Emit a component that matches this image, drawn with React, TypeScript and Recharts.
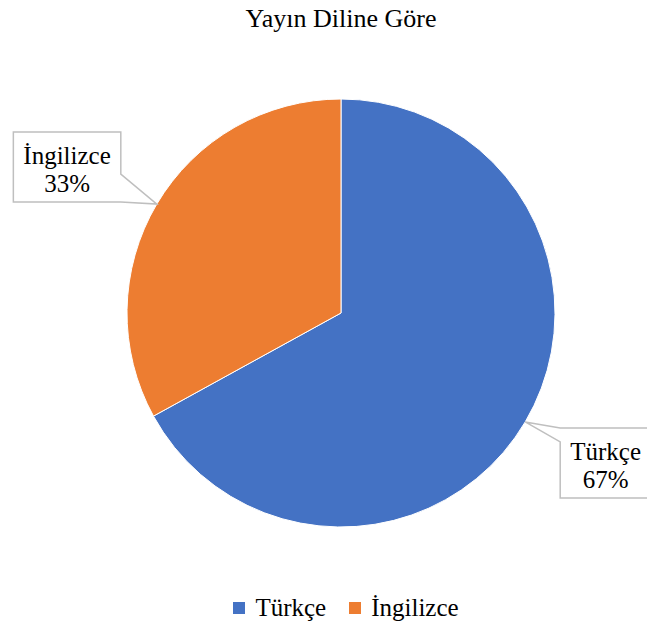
import { PieChart, Pie, Cell, Legend } from 'recharts'

const languages = ['Türkçe', 'İngilizce']
const shares = [67, 33]
const colors = ['#4472C4', '#ED7D31']

const data = languages.map((name, i) => ({ name, value: shares[i] }))

const FONT = "'Liberation Serif', 'Times New Roman', serif"
const RAD = Math.PI / 180

let ctx: CanvasRenderingContext2D | null = null
const textWidth = (s: string, size: number) => {
  if (!ctx) ctx = document.createElement('canvas').getContext('2d')
  if (!ctx) return s.length * size * 0.45
  ctx.font = `${size}px ${FONT}`
  return ctx.measureText(s).width
}

// Excel-style callout box with a wedge pointing at the slice
const CalloutLabel = (props: any) => {
  const { cx, cy, midAngle, outerRadius, name, percent } = props
  const ax = cx + outerRadius * Math.cos(-midAngle * RAD)
  const ay = cy + outerRadius * Math.sin(-midAngle * RAD)
  const pct = `${Math.round(percent * 100)}%`
  const w = Math.max(textWidth(name, 25), textWidth(pct, 25)) + 20
  const h = 70
  const onRight = ax > cx

  let x0: number, y0: number, d: string
  if (onRight) {
    x0 = ax + 35
    y0 = ay + 6
    const x1 = x0 + w
    const y1 = y0 + h
    d = `M${x0},${y0} L${x1},${y0} L${x1},${y1} L${x0},${y1} L${x0},${y0 + 14} L${ax},${ay} Z`
  } else {
    const x1 = ax - 36
    const y1 = ay - 2
    x0 = x1 - w
    y0 = y1 - h
    d = `M${x0},${y0} L${x1},${y0} L${x1},${y1 - 28} L${ax},${ay} L${x1},${y1} L${x0},${y1} Z`
  }
  const tx = x0 + w / 2
  const txtStyle: React.CSSProperties = { fontFamily: FONT, fontSize: '25px', fill: '#000' }

  return (
    <g style={{ fontFamily: FONT }}>
      <path d={d} fill="#fff" stroke="#BFBFBF" strokeWidth={1.5} />
      <text x={tx} y={y0 + 32} textAnchor="middle" fontFamily="Liberation Serif" style={txtStyle}>
        {name}
      </text>
      <text x={tx} y={y0 + 60} textAnchor="middle" fontFamily="Liberation Serif" style={txtStyle}>
        {pct}
      </text>
    </g>
  )
}

const LegendContent = () => (
  <div style={{ display: 'flex', justifyContent: 'center', paddingLeft: 45, gap: 23, fontFamily: FONT, fontSize: 25 }}>
    {languages.map((name, i) => (
      <div key={name} style={{ display: 'flex', alignItems: 'center', gap: 10 }}>
        <span style={{ width: 12, height: 12, background: colors[i], display: 'inline-block' }} />
        <span style={{ color: '#000' }}>{name}</span>
      </div>
    ))}
  </div>
)

const App = () => {
  const titleStyle: React.CSSProperties = {
    position: 'absolute',
    top: 6,
    left: 141,
    width: 400,
    textAlign: 'center',
    fontFamily: FONT,
    fontSize: 26,
    lineHeight: '26px',
    color: '#000',
  }

  return (
    <div style={{ position: 'absolute', left: 0, top: 0, width: 647, height: 632, background: '#fff', fontFamily: FONT }}>
      <div style={titleStyle}>Yayın Diline Göre</div>
      <PieChart width={647} height={632} margin={{ top: 0, right: 0, bottom: 0, left: 0 }}>
        <Pie
          data={data}
          dataKey="value"
          nameKey="name"
          cx={341}
          cy={313}
          outerRadius={214}
          startAngle={90}
          endAngle={-270}
          stroke="#fff"
          strokeWidth={1}
          label={CalloutLabel}
          labelLine={false}
          isAnimationActive={false}
        >
          {data.map((entry, idx) => (
            <Cell key={`cell-${idx}`} fill={colors[idx]} />
          ))}
        </Pie>
        <Legend content={<LegendContent />} wrapperStyle={{ top: 594, left: 0, width: 647 }} />
      </PieChart>
    </div>
  )
}

export default App
